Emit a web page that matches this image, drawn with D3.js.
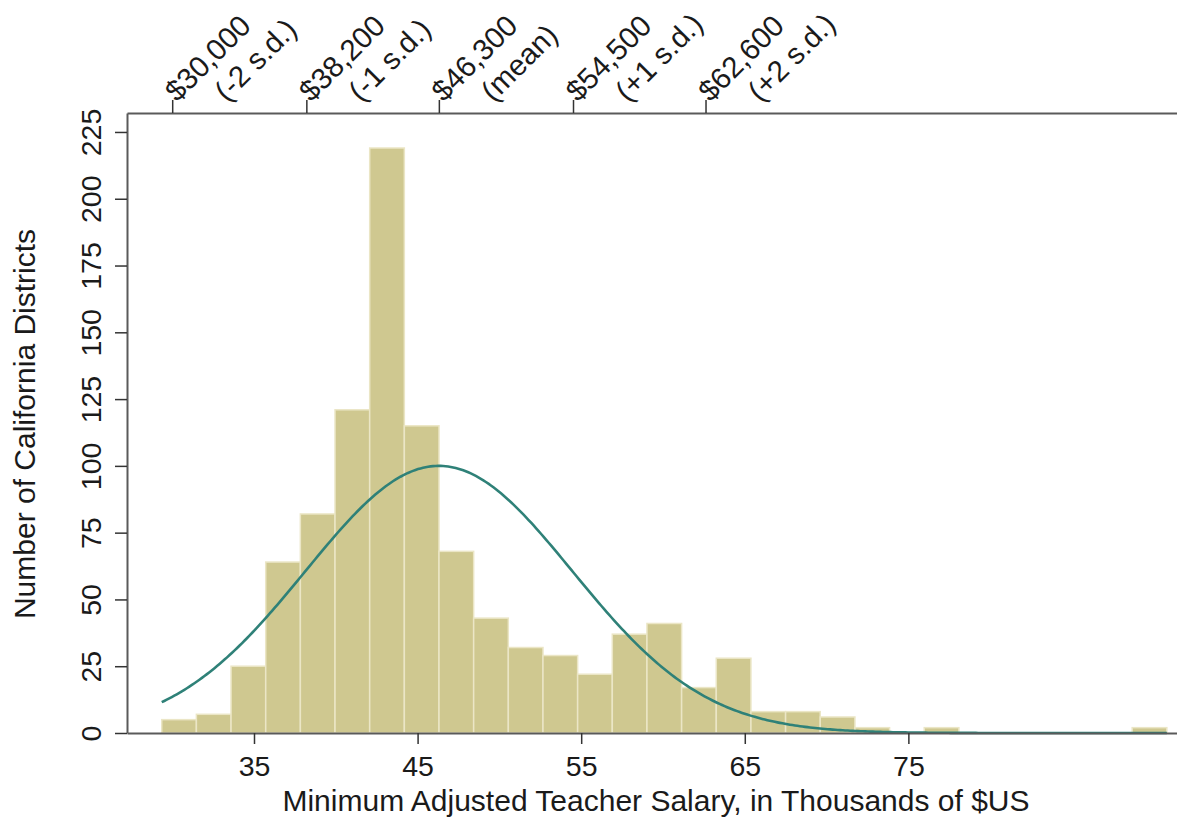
<!DOCTYPE html>
<html>
<head>
<meta charset="utf-8">
<script src="https://cdn.jsdelivr.net/npm/d3@7"></script>
<style>
  html, body { margin: 0; padding: 0; background: #fff; }
  svg { display: block; }
  text { font-family: "Liberation Sans", Arial, Helvetica, sans-serif; fill: #1a1a1a; }
</style>
</head>
<body>
<svg id="chart" width="1177" height="819"></svg>
<script>
// ---- Data ----
const binStart = 29.36;          // left edge of first bin (thousands $)
const binWidth = 2.1186;         // width of each bin (thousands $)
const counts = [5, 7, 25, 64, 82, 121, 219, 115, 68, 43, 32, 29, 22, 37, 41, 17, 28, 8, 8, 6, 2, 0, 2, 0, 0, 0, 0, 0, 2];
const xTicks = [35, 45, 55, 65, 75];
const yTicks = [0, 25, 50, 75, 100, 125, 150, 175, 200, 225];
const topTickValues = [30.0, 38.2, 46.3, 54.5, 62.6];
const topTickLabels = ["$30,000", "$38,200", "$46,300", "$54,500", "$62,600"];
const topTickSub = ["(-2 s.d.)", "(-1 s.d.)", "(mean)", "(+1 s.d.)", "(+2 s.d.)"];
const normalMean = 46.3;
const normalSD = 8.15;
const normalPeak = 100;
const xTitle = "Minimum Adjusted Teacher Salary, in Thousands of $US";
const yTitle = "Number of California Districts";

// ---- Layout ----
const plot = { left: 127, right: 1177, top: 113, bottom: 733 };
const svg = d3.select("#chart");

const x = d3.scaleLinear().domain([27.237, 91.42]).range([plot.left, plot.right]);
const y = d3.scaleLinear().domain([0, 232.1]).range([plot.bottom, plot.top]);

const barFill = "#cfc890";
const barEdge = "#ebe6c6";
const axisColor = "#5a5a5a";
const curveColor = "#2f8178";

// bars
const bins = counts.map((c, i) => ({ x0: binStart + i * binWidth, x1: binStart + (i + 1) * binWidth, c }));
svg.append("g").selectAll("rect")
  .data(bins.filter(d => d.c > 0))
  .join("rect")
  .attr("x", d => x(d.x0))
  .attr("width", d => x(d.x1) - x(d.x0))
  .attr("y", d => y(d.c))
  .attr("height", d => y(0) - y(d.c))
  .attr("fill", barFill)
  .attr("stroke", barEdge)
  .attr("stroke-width", 1.5);

// normal curve
const binEnd = binStart + counts.length * binWidth;
const curvePts = d3.range(0, 401).map(i => {
  const v = binStart + (binEnd - binStart) * i / 400;
  return [v, normalPeak * Math.exp(-0.5 * Math.pow((v - normalMean) / normalSD, 2))];
});
svg.append("path")
  .datum(curvePts)
  .attr("fill", "none")
  .attr("stroke", curveColor)
  .attr("stroke-width", 2.6)
  .attr("d", d3.line().x(d => x(d[0])).y(d => y(d[1])));

// axes
const tickFont = 28.5;

// bottom axis
const gx = svg.append("g").attr("transform", `translate(0,${plot.bottom})`)
  .call(d3.axisBottom(x).tickValues(xTicks).tickSize(11).tickSizeOuter(0).tickFormat(d3.format("d")));
gx.select(".domain").attr("stroke", axisColor).attr("stroke-width", 2);
gx.selectAll(".tick line").attr("stroke", "#333").attr("stroke-width", 1.5);
gx.selectAll(".tick text").attr("font-size", tickFont).attr("font-family", null).attr("fill", "#1a1a1a")
  .attr("dy", null).attr("y", 43);

// left axis
const gy = svg.append("g").attr("transform", `translate(${plot.left},0)`)
  .call(d3.axisLeft(y).tickValues(yTicks).tickSize(12).tickSizeOuter(0));
gy.select(".domain").attr("stroke", axisColor).attr("stroke-width", 2);
gy.selectAll(".tick line").attr("stroke", "#333").attr("stroke-width", 1.5);
gy.selectAll(".tick text")
  .attr("font-size", tickFont).attr("font-family", null).attr("fill", "#1a1a1a")
  .attr("x", null).attr("dy", null)
  .attr("text-anchor", "middle")
  .attr("transform", "translate(-26,0) rotate(-90)");

// top axis
const gt = svg.append("g").attr("transform", `translate(0,${plot.top})`)
  .call(d3.axisTop(x).tickValues(topTickValues).tickSize(13).tickSizeOuter(0).tickFormat(""));
gt.select(".domain").attr("stroke", axisColor).attr("stroke-width", 2);
gt.selectAll(".tick line").attr("stroke", "#333").attr("stroke-width", 1.5);
gt.selectAll(".tick text").remove();

const topLab = svg.append("g").selectAll("text")
  .data(topTickValues)
  .join("text")
  .attr("font-size", 29.5)
  .attr("transform", d => `translate(${x(d) + 5},${plot.top - 10}) rotate(-45)`);
topLab.append("tspan").attr("x", 0).attr("y", 0).text((d, i) => topTickLabels[i]);
topLab.append("tspan").attr("x", 35).attr("y", 35).text((d, i) => topTickSub[i]);

// titles
svg.append("text")
  .attr("x", 656).attr("y", 811)
  .attr("text-anchor", "middle")
  .attr("font-size", 30)
  .text(xTitle);

svg.append("text")
  .attr("transform", `translate(35,424) rotate(-90)`)
  .attr("text-anchor", "middle")
  .attr("font-size", 30)
  .text(yTitle);
</script>
</body>
</html>
